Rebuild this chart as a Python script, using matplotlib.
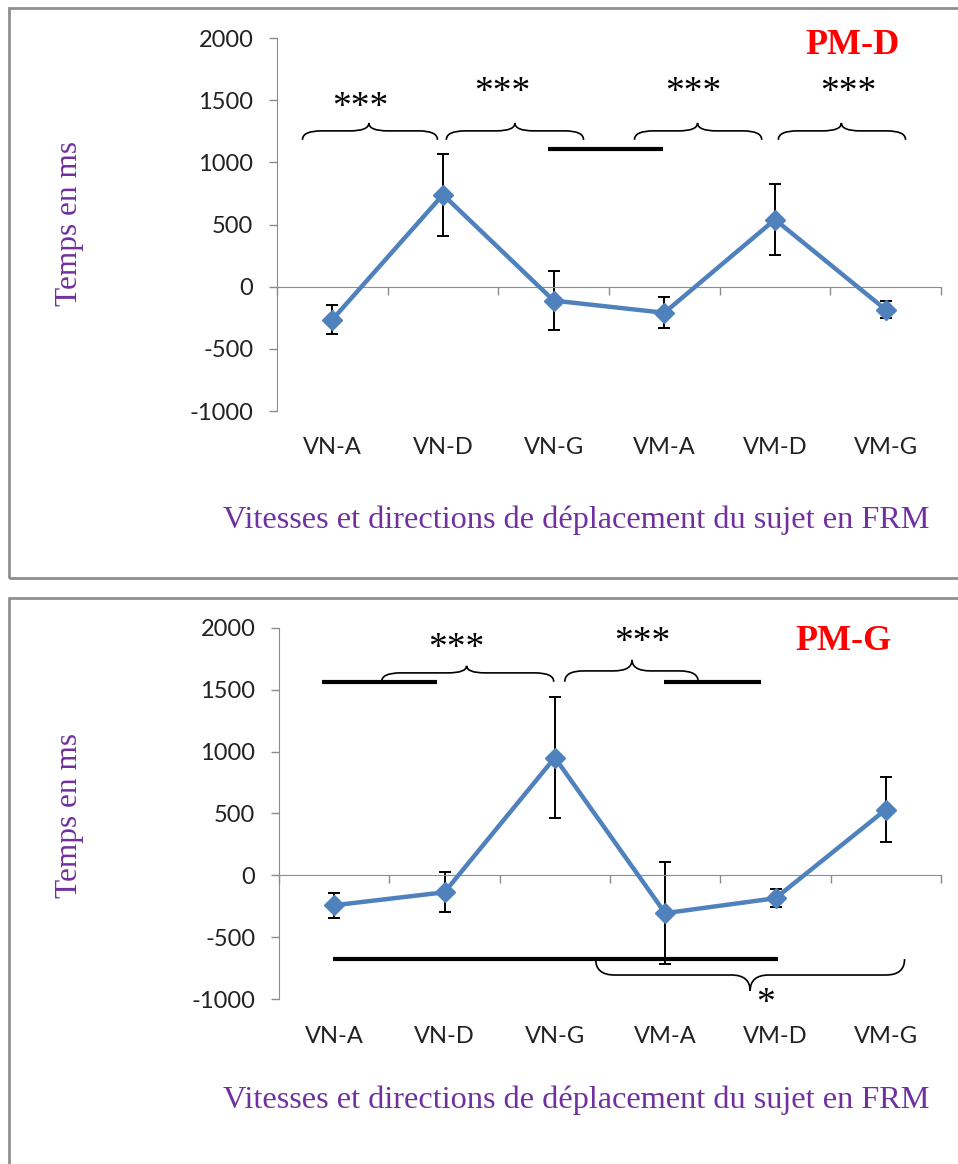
import matplotlib
matplotlib.use("Agg")
import matplotlib.pyplot as plt
from matplotlib.path import Path
from matplotlib.patches import PathPatch, Rectangle
from matplotlib.transforms import blended_transform_factory

# ---- data -------------------------------------------------------------
categories = ["VN-A", "VN-D", "VN-G", "VM-A", "VM-D", "VM-G"]

pmd_mean = [-265, 740, -112, -210, 540, -185]
pmd_err = [115, 330, 235, 125, 285, 70]

pmg_mean = [-242, -137, 952, -306, -185, 532]
pmg_err = [100, 160, 490, 410, 75, 266]

y_ticks = [-1000, -500, 0, 500, 1000, 1500, 2000]

# significance annotations: (x_left, x_right, x_tip, y_ends, y_flat, y_tip)
pmd_braces = [(-0.27, 0.95, 0.33, 1181, 1253, 1317),
              (1.03, 2.27, 1.65, 1181, 1253, 1317),
              (2.73, 3.88, 3.30, 1181, 1253, 1317),
              (4.03, 5.18, 4.60, 1181, 1253, 1317)]
pmd_stars = [(0.25, 1440, "***"), (1.54, 1558, "***"),
             (3.26, 1558, "***"), (4.66, 1558, "***")]
pmd_bars = [(1.95, 2.99, 1108)]

pmg_braces = [(0.43, 1.99, 1.20, 1565, 1637, 1694),
              (2.09, 3.30, 2.70, 1565, 1653, 1742),
              (2.37, 5.17, 3.77, -677, -806, -935)]
pmg_stars = [(1.11, 1830, "***"), (2.79, 1878, "***"), (3.91, -1040, "*")]
pmg_bars = [(-0.11, 0.93, 1565), (2.99, 3.87, 1565), (-0.01, 4.02, -677)]

# ---- style ------------------------------------------------------------
W, H = 958, 1164
LINE_BLUE = "#4F81BD"
PURPLE = "#7030A0"
AXIS_GREY = "#8C8C8C"
SERIF = "Liberation Serif"
SANS = "Lato"

fig = plt.figure(figsize=(W / 100, H / 100), dpi=100)


def px_box(left, top, right, bottom):
    return [left / W, 1 - bottom / H, (right - left) / W, (bottom - top) / H]


def brace(ax, x0, x1, xm, y_end, y_flat, y_tip, r=0.17):
    verts = [(x0, y_end), (x0, y_flat), (x0 + r, y_flat),
             (xm - r, y_flat),
             (xm, y_flat), (xm, y_tip),
             (xm, y_flat), (xm + r, y_flat),
             (x1 - r, y_flat),
             (x1, y_flat), (x1, y_end)]
    codes = [Path.MOVETO, Path.CURVE3, Path.CURVE3,
             Path.LINETO,
             Path.CURVE3, Path.CURVE3,
             Path.CURVE3, Path.CURVE3,
             Path.LINETO,
             Path.CURVE3, Path.CURVE3]
    ax.add_patch(PathPatch(Path(verts, codes), fill=False, ec="black",
                           lw=1.2, zorder=5, clip_on=False))


def panel(rect, means, errs, braces, stars, bars, title, title_xy, label_y):
    ax = fig.add_axes(rect)
    x = list(range(len(categories)))
    ax.errorbar(x, means, yerr=errs, fmt="none", ecolor="black",
                elinewidth=1.4, capsize=4.3, capthick=1.4, zorder=2)
    ax.plot(x, means, color=LINE_BLUE, lw=3.2, marker="D", ms=10.5,
            mec=LINE_BLUE, zorder=3, solid_joinstyle="miter")

    ax.set_xlim(-0.5, len(categories) - 0.5)
    ax.set_ylim(min(y_ticks), max(y_ticks))
    ax.set_yticks(y_ticks)
    ax.set_yticklabels([str(v) for v in y_ticks], fontfamily=SANS,
                       fontsize=17, color="#222222")
    ax.set_xticks([i - 0.5 for i in range(len(categories) + 1)])
    ax.set_xticklabels([])
    ax.tick_params(axis="both", direction="out", length=6, width=1,
                   color=AXIS_GREY)
    ax.tick_params(axis="y", pad=11)
    for side in ("top", "right"):
        ax.spines[side].set_visible(False)
    ax.spines["left"].set_color(AXIS_GREY)
    ax.spines["bottom"].set_color(AXIS_GREY)
    ax.spines["bottom"].set_position(("data", 0))
    ax.patch.set_alpha(0)

    trans = blended_transform_factory(ax.transData, ax.transAxes)
    for i, lab in enumerate(categories):
        ax.text(i, label_y, lab, transform=trans, ha="center", va="center",
                fontfamily=SANS, fontsize=17, color="#222222")

    for b in braces:
        brace(ax, *b)
    for (x0, x1, y) in bars:
        ax.plot([x0, x1], [y, y], color="black", lw=3, solid_capstyle="butt",
                zorder=5, clip_on=False)
    for (xs, ys, s) in stars:
        ax.text(xs, ys, s, ha="center", va="center", fontfamily=SERIF,
                fontsize=27, color="black", zorder=6)

    fig.text(title_xy[0] / W, 1 - title_xy[1] / H, title, ha="center",
             va="center", fontfamily=SERIF, fontweight="bold", fontsize=26,
             color="#FF0000")
    return ax


panel(px_box(277, 38, 941, 411), pmd_mean, pmd_err, pmd_braces, pmd_stars,
      pmd_bars, "PM-D", (853, 46), -0.097)
panel(px_box(279, 628, 941, 999), pmg_mean, pmg_err, pmg_braces, pmg_stars,
      pmg_bars, "PM-G", (844, 641), -0.102)

# axis titles
for yc in (223, 815):
    fig.text(69 / W, 1 - yc / H, "Temps en ms", rotation=90, ha="center",
             va="center", fontfamily=SERIF, fontsize=22.5, color=PURPLE)
for yc in (520, 1100):
    fig.text(576 / W, 1 - yc / H,
             "Vitesses et directions de déplacement du sujet en FRM",
             ha="center", va="center", fontfamily=SERIF, fontsize=23.2,
             color=PURPLE)

# panel frames
for top, bottom in ((8, 578), (598, 1200)):
    fig.add_artist(Rectangle((9 / W, 1 - bottom / H), (1000 - 9) / W,
                             (bottom - top) / H, transform=fig.transFigure,
                             fill=False, ec="#8F8F8F", lw=2))

fig.savefig("out.png", dpi=100, facecolor="white")
